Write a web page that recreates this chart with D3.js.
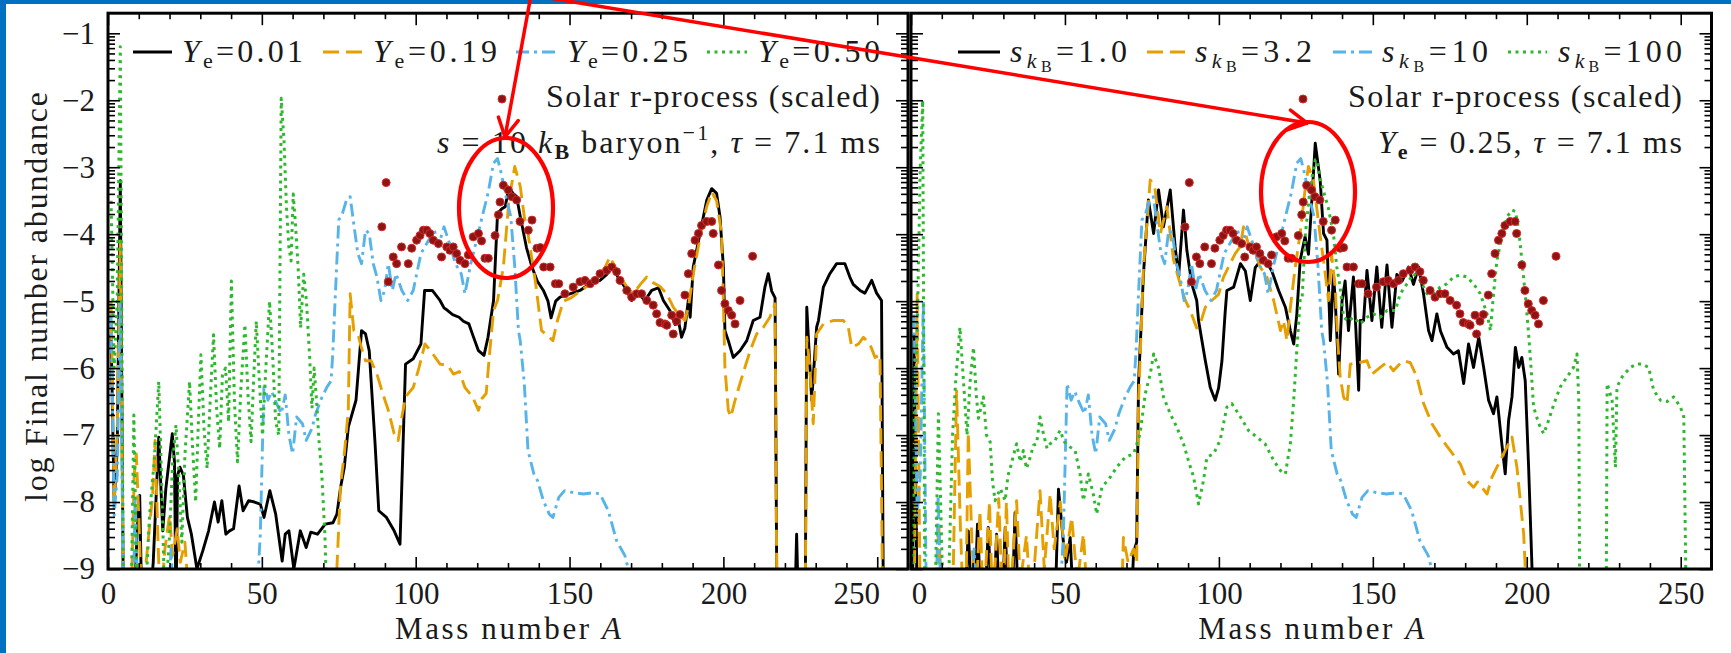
<!DOCTYPE html>
<html><head><meta charset="utf-8">
<script src="https://cdn.jsdelivr.net/npm/d3@7"></script>
<style>
body{margin:0;background:#fff}
svg{display:block}
text{font-family:"Liberation Serif","DejaVu Serif",serif;fill:#1a1a1a;white-space:pre}
</style>
</head><body>
<svg id="c" width="1731" height="653"></svg>
<script>
// ---------------- DATA ----------------
const massTicks = [0, 50, 100, 150, 200, 250];
const abundTicks = [-1, -2, -3, -4, -5, -6, -7, -8, -9];
const leftLegendLabels = ["0.01", "0.19", "0.25", "0.50"];
const rightLegendLabels = ["1.0", "3.2", "10", "100"];

// Left panel: s = 10 kB/baryon, tau = 7.1 ms
const ye001 = [[1,-5.5],[2,-8.0],[3,-7.2],[4,-3.2],[5,-9.6],[8.5,-9.6],[9.5,-8.4],[10.3,-7.9],[11,-9.6],[13.5,-9.6],[14.7,-8.9],[16.5,-7.03],[17.8,-8.43],[18.8,-7.8],[20.9,-6.98],[21.6,-7.4],[22.1,-9.6],[22.6,-7.6],[23.4,-7.48],[24.5,-7.6],[25.8,-8.23],[27.1,-8.48],[28.9,-9.0],[30.8,-8.73],[32.7,-8.43],[34.6,-8.0],[35.8,-8.3],[37.0,-7.98],[38.3,-8.48],[39.5,-8.43],[40.8,-8.4],[42.6,-7.76],[43.9,-8.13],[45.7,-7.98],[47.6,-8.0],[49.5,-8.03],[50.7,-8.23],[52.6,-7.83],[54.5,-8.18],[56.6,-8.88],[57.6,-8.48],[58.8,-8.43],[60.4,-9.0],[62.5,-8.43],[64.4,-8.68],[65.9,-8.45],[68.1,-8.48],[70.6,-8.33],[73.1,-8.31],[74.4,-8.18],[75.6,-7.78],[76.8,-7.48],[78.1,-6.88],[80.6,-6.48],[82.4,-5.44],[83.7,-5.49],[84.9,-5.74],[86.8,-7.13],[88.0,-8.13],[90.5,-8.23],[93.0,-8.43],[94.9,-8.63],[96.7,-5.94],[99.2,-5.86],[101.7,-5.64],[102.9,-4.84],[105.4,-4.84],[107.9,-4.99],[109.2,-5.1],[110.4,-5.14],[112,-5.2],[114.1,-5.24],[115.5,-5.3],[117.3,-5.34],[118.5,-5.5],[120.4,-5.74],[122.2,-5.81],[123.5,-5.54],[125.3,-4.99],[126.6,-3.69],[128,-3.62],[129.1,-3.59],[130.3,-3.3],[131.6,-3.39],[132.8,-3.44],[134.0,-3.74],[136,-4.2],[137.8,-4.49],[139.5,-4.7],[141.5,-4.84],[143.0,-5.0],[144.0,-5.25],[145.5,-5.0],[146.9,-4.94],[150.1,-4.89],[153.4,-4.84],[156.6,-4.74],[159.9,-4.69],[162.1,-4.6],[163.7,-4.49],[165.9,-4.65],[168.0,-4.79],[170.2,-4.99],[172.4,-4.89],[174.5,-4.99],[176.7,-4.84],[178.9,-4.8],[180.5,-4.99],[182.6,-5.14],[184.3,-5.35],[185.4,-5.29],[186.4,-5.54],[187.5,-5.4],[188.6,-4.99],[189.2,-5.24],[190.2,-4.49],[192.4,-3.99],[194.6,-3.49],[196.2,-3.32],[197.8,-3.39],[198.9,-3.74],[200.0,-4.49],[200.5,-5.44],[201.6,-5.59],[203.2,-5.84],[205.4,-5.74],[207.6,-5.59],[209.7,-5.29],[211.9,-5.24],[213.5,-4.79],[214.6,-4.59],[215.7,-4.85],[216.8,-4.95],[217.4,-9.6],[223.2,-9.6],[223.8,-8.48],[224.4,-9.6],[226.6,-9.6],[227.1,-5.09],[228.7,-6.48],[230.3,-5.39],[230.9,-5.29],[232.5,-4.79],[234.6,-4.59],[236.8,-4.44],[239.5,-4.44],[241.1,-4.64],[242.2,-4.75],[244.4,-4.84],[246.0,-4.88],[248.2,-4.69],[249.8,-4.88],[251.4,-4.99],[252.0,-9.6]];

const ye019 = [[1,-5.0],[2,-8.0],[3,-7.0],[4,-4.1],[5,-9.6],[7.5,-9.6],[8.5,-7.6],[9.2,-7.28],[10,-8.2],[11,-9.6],[13,-8.6],[14.5,-7.9],[15.3,-7.08],[16.2,-8.5],[17,-9.6],[18.5,-8.7],[20,-8.2],[21,-8.8],[22.5,-8.4],[23.5,-8.9],[25,-8.6],[26.5,-9.6],[74.0,-9.6],[74.4,-8.98],[75.6,-7.73],[76.8,-7.28],[78.1,-6.63],[78.7,-4.89],[79.9,-5.44],[81.2,-5.49],[82.4,-5.7],[83.7,-5.89],[85.5,-5.89],[87.4,-6.09],[89.3,-6.38],[91.1,-6.63],[93.0,-6.98],[94.3,-7.08],[95.5,-6.73],[96.7,-6.43],[99.2,-6.29],[101.1,-5.99],[103.0,-5.64],[104.8,-5.74],[107.9,-5.94],[110.4,-5.96],[112.3,-6.09],[114.2,-6.05],[116.0,-6.29],[118.5,-6.43],[120.4,-6.63],[121.6,-6.45],[122.9,-6.38],[124.1,-5.74],[125.3,-5.14],[126.6,-4.99],[128.5,-4.49],[130.3,-3.49],[132.2,-2.99],[134.0,-3.29],[135.3,-3.74],[136.5,-3.99],[139.0,-4.74],[140.9,-5.44],[142.5,-5.5],[144.6,-5.59],[146.0,-5.3],[148.0,-5.0],[150.5,-4.95],[152.3,-4.89],[155.6,-4.78],[158.8,-4.64],[161.5,-4.5],[163.1,-4.34],[165,-4.5],[166.4,-4.64],[168.6,-4.78],[170.7,-4.89],[173,-4.75],[175.1,-4.64],[177,-4.72],[179.4,-4.78],[181.6,-4.89],[183.7,-5.09],[185.4,-5.19],[187.5,-5.29],[188.6,-5.1],[190.2,-4.6],[192.4,-4.05],[194.5,-3.6],[196.2,-3.37],[197.8,-3.5],[199.4,-3.99],[200.0,-5.0],[200.5,-5.99],[201.6,-6.63],[202.4,-6.73],[203.8,-6.48],[205.4,-6.23],[207.0,-5.99],[208.7,-5.74],[210.8,-5.49],[213.0,-5.39],[215.1,-5.24],[216.8,-5.04],[217.4,-9.6],[226.6,-9.6],[227.1,-5.54],[228.1,-5.99],[229.2,-6.83],[230.3,-5.49],[232.5,-5.34],[235.7,-5.29],[239.0,-5.29],[240.6,-5.39],[241.7,-5.69],[243.9,-5.64],[245.5,-5.54],[247.6,-5.64],[249.3,-5.84],[250.9,-5.8],[251.8,-9.6]];

// Ye = 0.25 with s = 10 kB (appears in both panels)
const ye025s10 = [[1,-5.2],[2,-8.2],[3,-7.6],[4,-5.0],[5,-9.6],[8.2,-9.6],[8.8,-7.9],[9.8,-9.6],[19.6,-9.6],[20.5,-8.7],[21.4,-9.6],[48.2,-9.6],[49.5,-8.48],[50.7,-6.23],[52.0,-6.48],[53.2,-6.35],[54.5,-6.5],[56.3,-6.68],[57.6,-6.4],[58.8,-7.0],[60.0,-7.28],[61.3,-6.73],[63.2,-6.83],[64.4,-7.08],[66.3,-6.9],[67.5,-6.68],[69.4,-6.45],[71.2,-6.28],[72.5,-6.19],[73.1,-5.74],[73.7,-5.09],[75.0,-3.79],[76.2,-3.69],[77.5,-3.49],[78.7,-3.44],[80.0,-3.89],[81.2,-4.29],[82.4,-4.44],[83.7,-3.94],[84.9,-3.99],[86.2,-4.44],[87.4,-4.64],[88.7,-4.99],[89.9,-4.84],[91.1,-4.44],[92.4,-4.84],[93.6,-4.59],[95.5,-4.84],[97.4,-4.99],[99.2,-4.84],[101.7,-4.29],[104.2,-4.09],[106.1,-3.94],[107.3,-4.19],[109.2,-3.89],[111.1,-4.15],[112.9,-4.44],[114.8,-4.59],[116.0,-4.89],[117.9,-4.44],[119.8,-4.09],[121.6,-3.74],[123.5,-3.39],[125.3,-2.94],[126.6,-2.87],[127.8,-3.09],[129.1,-3.39],[130.9,-3.74],[132.2,-4.49],[133.4,-5.44],[134.0,-5.6],[135.3,-6.23],[136.5,-7.23],[138.4,-7.58],[139.6,-7.68],[141.5,-7.98],[143.4,-8.18],[144.6,-8.23],[146.5,-7.93],[148.4,-7.83],[151.2,-7.86],[154.5,-7.88],[157.7,-7.86],[159.9,-7.88],[162.6,-8.13],[165.3,-8.58],[168.0,-8.8],[169.1,-9.0],[169.6,-9.6]];

const ye050 = [[1,-3.5],[2,-6.0],[3,-5.0],[4,-1.2],[5,-9.6],[7.5,-9.6],[8.4,-6.7],[9.5,-9.6],[12,-9.6],[13.5,-8.2],[15,-7.4],[16.5,-6.2],[17.5,-7.8],[18.5,-9.6],[20,-8.5],[21,-7.4],[22.1,-6.85],[23,-7.6],[24,-8.6],[25,-7.3],[26.5,-6.2],[27.5,-7.2],[28.5,-8.0],[29.3,-6.9],[30.2,-5.8],[31.2,-6.9],[32.2,-7.5],[33.3,-6.4],[34.3,-5.5],[35.3,-6.6],[36.3,-7.2],[37.2,-6.1],[38.2,-6.0],[39.2,-6.8],[40.1,-4.7],[41.1,-6.5],[42.1,-7.4],[43.2,-6.3],[44.5,-5.35],[45.5,-6.4],[46.5,-7.1],[47.3,-6.2],[48.2,-5.3],[49.2,-6.2],[50.2,-7.0],[51.3,-6.0],[52.5,-5.0],[53.5,-5.8],[54.5,-6.8],[55.5,-7.0],[56.3,-1.97],[57.2,-2.6],[58,-3.6],[58.8,-4.2],[59.5,-4.4],[60.2,-3.4],[61,-3.9],[61.8,-4.5],[62.6,-5.4],[63.6,-4.6],[64.5,-5.0],[65.5,-5.8],[66.3,-6.6],[67,-6.0],[67.8,-6.5],[68.6,-7.1],[69.5,-7.6],[70.5,-8.5],[71.2,-9.6]];

// Right panel: Ye = 0.25, tau = 7.1 ms
const s1 = [[0.5,-9.6],[1,-5.5],[2,-9.6],[17.5,-9.6],[18.6,-8.43],[19.8,-9.6],[20.6,-9.6],[21.6,-8.33],[22.8,-9.6],[24,-9.6],[25.1,-8.38],[26.2,-9.6],[26.8,-9.6],[27.8,-8.48],[28.8,-9.6],[29.6,-9.6],[30.6,-8.38],[31.6,-9.6],[32.8,-9.6],[33.8,-8.16],[34.9,-9.6],[46.8,-9.6],[47.9,-7.81],[49.5,-8.6],[50.5,-8.9],[51.7,-8.53],[52.8,-9.6],[71.5,-9.6],[72.3,-8.75],[73.3,-8.6],[73.9,-6.23],[75.5,-4.6],[77.1,-3.49],[78.8,-3.99],[80.4,-3.34],[82.0,-3.89],[84.2,-3.34],[85.8,-4.19],[86.9,-4.64],[88.5,-3.64],[89.6,-4.24],[91.2,-4.74],[92.8,-4.99],[93.4,-5.29],[94.5,-5.59],[95.6,-5.89],[97.2,-6.29],[98.8,-6.48],[99.9,-6.3],[101.0,-5.89],[102.0,-5.19],[102.6,-4.84],[104.8,-4.79],[107.0,-4.44],[108.6,-4.55],[110.2,-4.99],[111.8,-4.5],[114.5,-4.34],[117.2,-4.55],[119.4,-4.84],[121.6,-5.09],[123.2,-5.44],[124.3,-5.64],[125.3,-5.2],[126.4,-4.39],[128.0,-4.04],[129.1,-4.3],[130.2,-3.49],[131.3,-2.64],[132.9,-3.2],[134.0,-3.99],[135.1,-4.09],[136.2,-5.59],[137.2,-4.6],[137.8,-4.99],[138.9,-6.09],[140,-5.0],[141,-4.7],[142.1,-5.44],[143.7,-4.64],[145.4,-6.33],[145.9,-5.29],[147.0,-5.29],[148.1,-4.54],[149.7,-5.29],[151.3,-4.49],[152.9,-5.39],[154.6,-4.46],[156.2,-5.39],[157.8,-4.6],[159.5,-4.7],[161.6,-4.49],[163.2,-4.75],[164.9,-4.49],[166.5,-4.9],[168.1,-5.44],[169.2,-5.59],[170.8,-5.19],[172,-5.45],[174.1,-5.69],[176.2,-5.79],[177.8,-5.74],[179.5,-6.23],[181.1,-5.64],[182.7,-5.99],[184.4,-5.54],[186.0,-5.99],[187.6,-6.48],[189.2,-6.68],[190.3,-6.43],[191.9,-7.13],[193.0,-7.58],[194.1,-6.78],[195.2,-6.43],[196.3,-5.69],[197.4,-5.99],[198.4,-5.84],[199.5,-6.19],[200.6,-7.48],[201.7,-8.98],[202.0,-9.6]];

const s32 = [[1,-9.6],[2,-4.9],[3,-9.6],[8,-9.6],[9,-8.3],[10,-9.6],[13.5,-9.6],[14.8,-6.34],[16,-8.3],[17,-9.6],[17.8,-9.6],[18.6,-6.96],[19.8,-8.6],[21,-9.6],[22.4,-8.13],[23.5,-9.6],[25.5,-8.0],[26.5,-9.6],[28.5,-7.95],[29.8,-9.6],[31,-8.0],[32,-9.6],[34.3,-7.98],[35.5,-9.2],[37.5,-8.5],[39,-9.6],[41.9,-7.83],[43.3,-9.0],[45.2,-7.88],[46.5,-8.7],[48.5,-8.0],[50,-8.9],[52.2,-8.23],[54,-9.2],[56,-8.48],[57.5,-9.6],[68.3,-9.6],[69,-8.53],[70.5,-8.9],[72.3,-8.7],[73.3,-8.9],[73.9,-6.5],[75.5,-4.5],[77.7,-3.19],[79.2,-3.3],[81,-3.99],[83.1,-3.59],[85.3,-4.39],[87.4,-4.74],[89.1,-4.99],[90.7,-5.14],[92.8,-5.4],[94.2,-5.3],[95.6,-5.09],[97.7,-4.99],[99.9,-4.9],[101.5,-4.64],[103.1,-4.49],[105.3,-4.29],[106.9,-4.19],[108.0,-3.89],[109.6,-4.15],[111.8,-4.29],[113.4,-4.49],[115.6,-4.64],[117.8,-4.99],[120.0,-5.44],[121.0,-5.29],[122.1,-5.59],[123.2,-5.1],[124.8,-4.49],[126.4,-3.99],[128.1,-3.29],[129.1,-2.99],[130.7,-3.19],[132.8,-3.99],[134.3,-4.5],[135.6,-4.99],[136.6,-4.3],[137.8,-4.8],[138.6,-5.6],[139.4,-6.13],[140.5,-6.43],[141.6,-6.53],[142.7,-5.94],[145.4,-5.92],[148.1,-5.89],[149.7,-6.09],[152.4,-5.99],[154.6,-5.91],[156.7,-6.04],[158.5,-5.95],[160.0,-5.89],[162.2,-5.92],[164.3,-6.13],[166.5,-6.53],[169.2,-6.83],[171.9,-7.03],[175.1,-7.23],[178.4,-7.43],[180.6,-7.68],[182.7,-7.78],[184,-7.7],[185.4,-7.78],[187.1,-7.88],[188.7,-7.63],[190.3,-7.48],[193.0,-7.23],[194.1,-7.13],[195.2,-7.03],[196.8,-7.48],[197.9,-7.98],[199.0,-8.48],[199.5,-8.98],[199.8,-9.6]];

const s100 = [[0.5,-9.6],[1,-6.5],[2,-5.5],[3,-3.0],[3.8,-2.0],[4.5,-9.6],[7.8,-9.6],[8.9,-6.68],[10.5,-9.6],[12,-9.6],[13.5,-7.0],[14.5,-6.2],[15.9,-5.39],[17.2,-6.3],[18.2,-7.0],[19.2,-6.2],[20.3,-5.69],[21.2,-6.4],[21.9,-6.75],[23.5,-6.43],[24.5,-7.0],[25.7,-7.1],[26.5,-7.7],[27.3,-7.98],[29.0,-7.8],[30.6,-7.98],[31.5,-7.6],[32.2,-7.5],[33.3,-7.3],[34.3,-7.13],[35.5,-7.4],[36.5,-7.23],[37.5,-7.5],[38.7,-7.33],[39.8,-7.15],[40.8,-7.13],[41.9,-6.73],[43.0,-6.98],[44.2,-7.2],[45.2,-7.13],[46.8,-7.08],[48.4,-6.93],[49.8,-7.1],[51.7,-7.18],[53.3,-7.23],[54.9,-7.58],[56.0,-7.98],[57.6,-7.58],[59.3,-7.9],[60.3,-8.18],[62.0,-7.78],[64.7,-7.63],[66.8,-7.48],[69.6,-7.33],[72.3,-7.28],[74.4,-6.98],[76.1,-6.38],[77.7,-6.09],[78.8,-5.79],[80.4,-5.99],[82.0,-6.43],[84.2,-6.68],[86.3,-6.88],[88.5,-7.13],[90.1,-7.38],[91.8,-7.63],[93.4,-8.03],[95.0,-7.68],[96.1,-7.33],[98.3,-7.28],[100.4,-7.08],[102.6,-6.58],[104.2,-6.53],[107.0,-6.73],[109.6,-6.93],[112.3,-7.03],[115.0,-7.13],[117.8,-7.38],[120.0,-7.53],[121.6,-7.58],[123.2,-7.13],[124.3,-6.48],[125.3,-5.74],[126.4,-4.99],[127.0,-4.99],[128.1,-3.99],[129.7,-3.29],[131.3,-2.89],[131.8,-2.89],[133,-3.2],[134.5,-3.44],[135.5,-3.6],[137.2,-3.99],[138.3,-4.49],[139.4,-4.79],[140.5,-5.24],[142,-5.3],[143.7,-5.24],[145.9,-5.34],[148.1,-5.24],[150.2,-5.19],[152.4,-5.24],[154.6,-5.14],[157.3,-5.14],[158.9,-4.89],[161.1,-4.74],[163.2,-4.59],[165.4,-4.69],[167.6,-4.89],[169.7,-4.89],[171.9,-4.79],[174.1,-4.74],[176.2,-4.64],[178.4,-4.61],[180.6,-4.64],[182.7,-4.74],[184.9,-4.89],[187.1,-5.19],[188.2,-5.44],[189.2,-4.89],[190.3,-4.39],[191.9,-4.04],[193.6,-3.74],[195.2,-3.64],[196.3,-3.66],[197.4,-3.94],[198.4,-4.39],[199.5,-4.89],[200.6,-5.49],[201.4,-6.0],[202.2,-6.58],[203.9,-6.83],[205.5,-6.98],[207.1,-6.78],[208.7,-6.55],[210.9,-6.28],[213.1,-6.13],[215.2,-5.99],[216.3,-5.79],[216.9,-6.5],[217.2,-9.6],[225.8,-9.6],[226.1,-6.23],[227.7,-6.48],[228.8,-7.48],[229.3,-6.28],[231.0,-6.13],[233.6,-5.99],[235.8,-5.94],[237.4,-5.94],[239.6,-5.99],[241.2,-6.33],[243.4,-6.48],[245.6,-6.5],[247.7,-6.43],[249.9,-6.58],[251.0,-6.73],[251.8,-9.6]];

// Solar r-process abundances (scaled), same in both panels
const solarR = [[89.0,-3.89],[90.4,-3.23],[91.1,-4.71],[92.7,-4.34],[93.8,-4.44],[95.4,-4.19],[97.6,-4.44],[98.7,-4.21],[100.3,-4.09],[101.4,-4.02],[102.5,-3.94],[103.6,-3.94],[104.6,-3.99],[105.7,-4.09],[107.4,-4.14],[108.4,-4.34],[110.1,-4.19],[111.1,-4.24],[112.2,-4.19],[113.3,-4.29],[114.4,-4.39],[116.0,-4.44],[117.1,-4.31],[118.7,-4.04],[120.4,-3.99],[121.4,-4.1],[122.5,-4.36],[123.6,-4.36],[125.8,-4.02],[126.9,-3.71],[127.4,-3.52],[128.5,-3.27],[130.1,-3.34],[131.2,-3.44],[132.8,-3.49],[133.9,-3.81],[136.6,-3.94],[137.8,-3.79],[139.4,-4.21],[140.5,-4.2],[141.6,-4.49],[143.7,-4.49],[145.4,-4.74],[146.5,-4.74],[148.5,-4.89],[151.2,-4.79],[153.4,-4.71],[155.0,-4.69],[156.7,-4.74],[158.3,-4.69],[159.9,-4.59],[162.1,-4.54],[163.7,-4.49],[165.3,-4.56],[166.4,-4.69],[168.6,-4.84],[170.2,-4.94],[171.8,-4.89],[173.4,-4.89],[175.1,-4.99],[177.2,-5.06],[178.3,-5.19],[179.4,-5.32],[181.0,-5.34],[181.6,-5.36],[183.2,-5.21],[183.7,-5.49],[184.8,-5.3],[185.9,-5.2],[187.5,-4.91],[188.6,-4.59],[189.7,-4.29],[190.8,-4.09],[191.9,-3.99],[192.9,-3.87],[194.6,-3.81],[196.2,-3.81],[196.7,-3.99],[198.4,-4.46],[199.4,-4.84],[200.5,-5.04],[201.6,-5.14],[202.7,-5.21],[203.8,-5.34],[205.4,-4.99],[209.5,-4.33]];

// ---------------- STYLES ----------------
const styles = [
  {color: "#000000", dash: null, w: 2.9},
  {color: "#E69F00", dash: "16,7", w: 2.9},
  {color: "#56B4E9", dash: "13,5,3,5", w: 2.9},
  {color: "#2DB82D", dash: "3,4.5", w: 3.0}
];

const svg = d3.select("#c");
svg.append("rect").attr("width", 1731).attr("height", 653).attr("fill", "#fff");

const y = d3.scaleLinear().domain([-9, -0.7]).range([569, 13.2]);
const FS = 31;

const panels = [
  {id: "L", x: d3.scaleLinear().domain([0, 260]).range([108, 908]), series: [ye001, ye019, ye025s10, ye050],
   labelDx: {250: -21}, yLabels: true},
  {id: "R", x: d3.scaleLinear().domain([0, 260]).range([911, 1711.5]), series: [s1, s32, ye025s10, s100],
   labelDx: {0: 8}, yLabels: false}
];

const minorY = [];
for (let n = -10; n <= -1; n++) for (let k = 2; k <= 9; k++) {
  const v = n + Math.log10(k);
  if (v > -9 && v < -0.7) minorY.push(v);
}
const minorX = d3.range(0, 261, 10).filter(d => d % 50 !== 0);

function styleAxis(g) {
  g.attr("font-family", null).attr("font-size", null);
  g.select(".domain").remove();
  g.selectAll(".tick line").attr("stroke", "#000").attr("stroke-width", 1.6);
  g.selectAll(".tick text").attr("font-size", FS).attr("fill", "#1a1a1a");
}

panels.forEach(p => {
  const x = p.x;
  const [x0, x1] = x.range();
  const [yb, yt] = y.range();
  const g = svg.append("g");
  g.append("clipPath").attr("id", "clip" + p.id).append("rect")
    .attr("x", x0).attr("y", yt).attr("width", x1 - x0).attr("height", yb - yt);

  const line = d3.line().x(d => x(d[0])).y(d => y(d[1]));
  const plot = g.append("g").attr("clip-path", `url(#clip${p.id})`);
  p.series.forEach((s, i) => {
    const st = styles[i];
    plot.append("path").datum(s).attr("d", line).attr("fill", "none")
      .attr("stroke", st.color).attr("stroke-width", st.w)
      .attr("stroke-dasharray", st.dash).attr("stroke-linejoin", "round");
  });
  plot.selectAll("circle.solar").data(solarR).join("circle").attr("class", "solar")
    .attr("cx", d => x(d[0])).attr("cy", d => y(d[1])).attr("r", 4)
    .attr("fill", "#8e1414").attr("stroke", "#d42a2a").attr("stroke-width", 1);

  // Axes
  const bottom = g.append("g").attr("transform", `translate(0,${yb})`)
    .call(d3.axisBottom(x).tickValues(massTicks).tickSize(-12).tickSizeOuter(0).tickPadding(13));
  styleAxis(bottom);
  bottom.selectAll(".tick text").attr("dx", d => p.labelDx[d] || 0);
  const bottomMinor = g.append("g").attr("transform", `translate(0,${yb})`)
    .call(d3.axisBottom(x).tickValues(minorX).tickSize(-6).tickSizeOuter(0).tickFormat(""));
  styleAxis(bottomMinor);
  const top = g.append("g").attr("transform", `translate(0,${yt})`)
    .call(d3.axisTop(x).tickValues(massTicks).tickSize(-12).tickSizeOuter(0).tickFormat(""));
  styleAxis(top);
  const topMinor = g.append("g").attr("transform", `translate(0,${yt})`)
    .call(d3.axisTop(x).tickValues(minorX).tickSize(-6).tickSizeOuter(0).tickFormat(""));
  styleAxis(topMinor);

  const left = g.append("g").attr("transform", `translate(${x0},0)`)
    .call(d3.axisLeft(y).tickValues(abundTicks).tickSize(-12).tickSizeOuter(0).tickPadding(13)
      .tickFormat(d => p.yLabels ? "\u2212" + Math.abs(d) : ""));
  styleAxis(left);
  const leftMinor = g.append("g").attr("transform", `translate(${x0},0)`)
    .call(d3.axisLeft(y).tickValues(minorY).tickSize(-7).tickSizeOuter(0).tickFormat(""));
  styleAxis(leftMinor);
  const right = g.append("g").attr("transform", `translate(${x1},0)`)
    .call(d3.axisRight(y).tickValues(abundTicks).tickSize(-12).tickSizeOuter(0).tickFormat(""));
  styleAxis(right);
  const rightMinor = g.append("g").attr("transform", `translate(${x1},0)`)
    .call(d3.axisRight(y).tickValues(minorY).tickSize(-7).tickSizeOuter(0).tickFormat(""));
  styleAxis(rightMinor);

  g.append("rect").attr("x", x0).attr("y", yt).attr("width", x1 - x0).attr("height", yb - yt)
    .attr("fill", "none").attr("stroke", "#000").attr("stroke-width", 3);

  // x label
  const xl = g.append("text").attr("x", (x0 + x1) / 2 - 113).attr("y", 639).attr("font-size", 31)
    .attr("textLength", 226).attr("lengthAdjust", "spacing");
  xl.append("tspan").text("Mass number ");
  xl.append("tspan").attr("font-style", "italic").text("A");
});

// y label
svg.append("text").attr("transform", "translate(47,297) rotate(-90)").attr("text-anchor", "middle")
  .attr("font-size", 32).attr("textLength", 410).attr("lengthAdjust", "spacing")
  .text("log Final number abundance");

// ---------------- LEGENDS ----------------
function mathText(x, yy, parts, fs, len) {
  const t = svg.append("text").attr("x", x).attr("y", yy).attr("font-size", fs);
  let shift = 0;
  parts.forEach(pt => {
    const target = pt.s || 0;
    const ts = t.append("tspan").text(pt.t).attr("dy", target - shift);
    shift = target;
    if (pt.it) ts.attr("font-style", "italic");
    if (pt.b) ts.attr("font-weight", "bold");
    if (pt.fs) ts.attr("font-size", pt.fs);
  });
  if (len) t.attr("textLength", len).attr("lengthAdjust", "spacing");
  return t;
}
function handle(xa, xb, yy, st) {
  svg.append("line").attr("x1", xa).attr("x2", xb).attr("y1", yy).attr("y2", yy)
    .attr("stroke", st.color).attr("stroke-width", st.w).attr("stroke-dasharray", st.dash);
}

const legL = [[133, 172, 182, 121], [323, 363, 373, 124], [516, 556, 567, 121], [707, 747, 758, 122]];
leftLegendLabels.forEach((lab, i) => {
  const [a, b, tx, len] = legL[i];
  handle(a, b, 52, styles[i]);
  mathText(tx, 62, [{t: "Y", it: true}, {t: "e", s: 6, fs: 22}, {t: "=" + lab}], 32, len);
});
const legR = [[958, 1000, 1010, 117], [1147, 1185, 1195, 117], [1333, 1372, 1382, 106], [1508, 1547, 1558, 124]];
rightLegendLabels.forEach((lab, i) => {
  const [a, b, tx, len] = legR[i];
  handle(a, b, 52, styles[i]);
  mathText(tx, 62, [{t: "s", it: true}, {t: "k", it: true, s: 6, fs: 22}, {t: "B", s: 10, fs: 16}, {t: "=" + lab}], 32, len);
});

// Solar entry
[[502, 546], [1303, 1348]].forEach(([dx, tx]) => {
  svg.append("circle").attr("cx", dx).attr("cy", 99).attr("r", 4)
    .attr("fill", "#8e1414").attr("stroke", "#d42a2a").attr("stroke-width", 1);
  svg.append("text").attr("x", tx).attr("y", 107).attr("font-size", 32)
    .attr("textLength", 334).attr("lengthAdjust", "spacing").text("Solar r-process (scaled)");
});

// Condition annotations
mathText(437, 153, [{t: "s", it: true}, {t: " = 10 "}, {t: "k", it: true}, {t: "B", s: 6, fs: 22, b: true},
  {t: " baryon"}, {t: "\u22121", s: -13, fs: 22}, {t: ", "}, {t: "\u03C4", it: true}, {t: " = 7.1 ms"}], 32, 443);
mathText(1378, 153, [{t: "Y", it: true}, {t: "e", s: 6, fs: 22, b: true}, {t: " = 0.25, "},
  {t: "\u03C4", it: true}, {t: " = 7.1 ms"}], 32, 304);

// ---------------- FRAME / ANNOTATIONS ----------------
svg.append("rect").attr("x", 0).attr("y", 0).attr("width", 6).attr("height", 653).attr("fill", "#0070C0");
svg.append("rect").attr("x", 0).attr("y", 0).attr("width", 1731).attr("height", 4).attr("fill", "#0070C0");

const red = "#ff0000";
const origin = [531, -5];
function arrow(tip) {
  svg.append("line").attr("x1", origin[0]).attr("y1", origin[1]).attr("x2", tip[0]).attr("y2", tip[1])
    .attr("stroke", red).attr("stroke-width", 3.5).attr("stroke-linecap", "round");
  const ang = Math.atan2(tip[1] - origin[1], tip[0] - origin[0]);
  [0.5, -0.5].forEach(da => {
    const a = ang + Math.PI + da;
    svg.append("line").attr("x1", tip[0]).attr("y1", tip[1])
      .attr("x2", tip[0] + 21 * Math.cos(a)).attr("y2", tip[1] + 21 * Math.sin(a))
      .attr("stroke", red).attr("stroke-width", 3.5).attr("stroke-linecap", "round");
  });
}
arrow([505, 137]);
arrow([1307, 123]);
svg.append("ellipse").attr("cx", 506).attr("cy", 208).attr("rx", 47).attr("ry", 70)
  .attr("fill", "none").attr("stroke", red).attr("stroke-width", 4.2);
svg.append("ellipse").attr("cx", 1308).attr("cy", 192).attr("rx", 47).attr("ry", 70)
  .attr("fill", "none").attr("stroke", red).attr("stroke-width", 4.2);
</script>
</body></html>
